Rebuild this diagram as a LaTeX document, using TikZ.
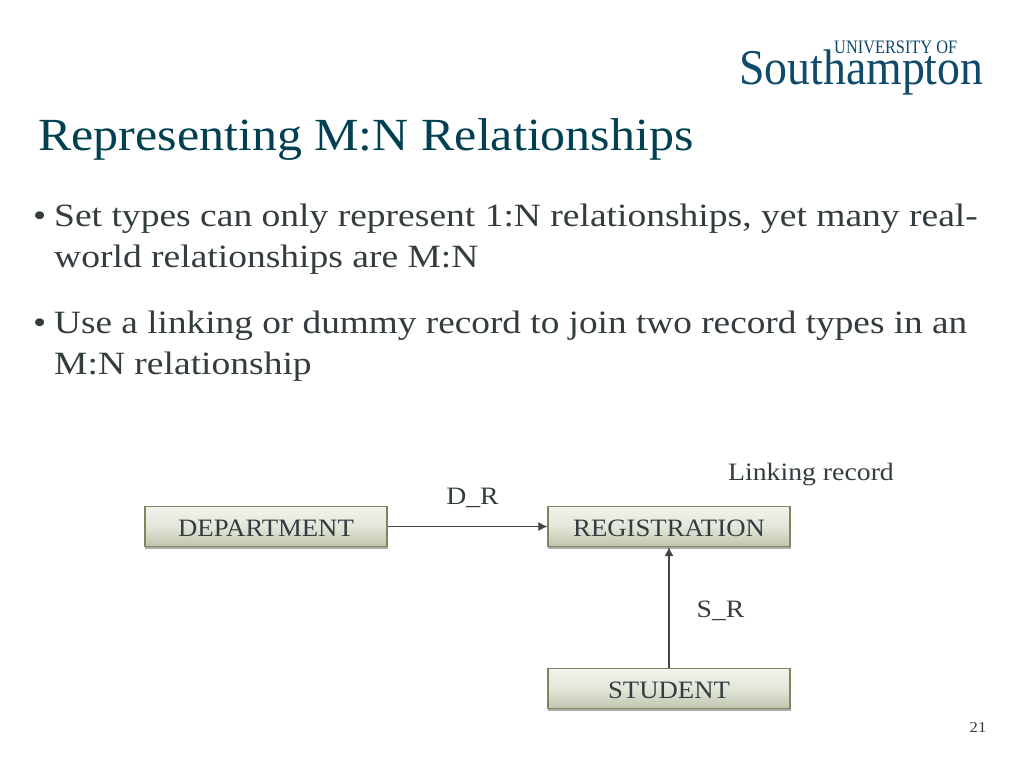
\documentclass[tikz,border=0pt]{standalone}
\usepackage{fontspec}
\setmainfont{Liberation Serif}
\newfontfamily\bodyf[FakeStretch=1.155]{Liberation Serif}
\newfontfamily\bodyg[FakeStretch=1.147]{Liberation Serif}
\newfontfamily\titlef[FakeStretch=1.087]{Liberation Serif}
\newfontfamily\lblf[FakeStretch=1.11]{Liberation Serif}
\newfontfamily\recf[FakeStretch=1.07]{Liberation Serif}
\newfontfamily\logof[FakeStretch=0.916]{Liberation Serif}
\newfontfamily\logog[FakeStretch=0.86]{Liberation Serif}
\usetikzlibrary{arrows.meta}
\definecolor{titlec}{HTML}{004050}
\definecolor{bodyc}{HTML}{333D40}
\definecolor{logoc}{HTML}{0F4A6B}
\definecolor{edgec}{HTML}{7F8560}
\definecolor{linec}{HTML}{3F4748}
\definecolor{boxtop}{HTML}{F2F4EC}
\definecolor{boxbot}{HTML}{BFC6AE}
\tikzset{
  txt/.style={inner sep=0pt,anchor=base west,text=bodyc,font=\bodyf},
  bodytxt/.style={txt,font=\bodyf\fontsize{32.5}{32.5}\selectfont},
  lbl/.style={inner sep=0pt,anchor=base,text=bodyc,font=\lblf\fontsize{25}{25}\selectfont},
  recbox/.style={draw=edgec,line width=1.2pt,minimum width=242pt,minimum height=40pt,inner sep=0pt,
    text height=20pt,text depth=0pt,
    top color=boxtop,bottom color=boxbot,middle color=boxtop!70!boxbot,text=bodyc,
    font=\recf\fontsize{25}{25}\selectfont},
  recshadow/.style={fill=black!32,draw=none,minimum width=243pt,minimum height=41pt,inner sep=0pt},
  conn/.style={draw=linec,line width=1.1pt,-{Latex[length=9pt,width=9pt]}}
}
\begin{document}
\begin{tikzpicture}[x=1pt,y=-1pt]
\useasboundingbox (0,0) rectangle (1024,768);
\fill[white] (0,0) rectangle (1024,768);
% logo
\node[inner sep=0pt,anchor=base west,text=logoc,font=\logog\fontsize{19}{19}\selectfont] (logotop) at (834,54) {UNIVERSITY OF};
\node[inner sep=0pt,anchor=base west,text=logoc,font=\logof\fontsize{50}{50}\selectfont] (logomain) at (739,84) {Southampton};
% title
\node[txt,text=titlec,font=\titlef\fontsize{46}{46}\selectfont] (title) at (38,150) {Representing M:N Relationships};
% bullets
\node[bodytxt] (b1) at (33,226) {•};
\node[bodytxt] (l1) at (54,226) {Set types can only represent 1:N relationships, yet many real-};
\node[bodytxt] (l2) at (54,267) {world relationships are M:N};
\node[bodytxt] (b2) at (33,333) {•};
\node[bodytxt,font=\bodyg\fontsize{32.5}{32.5}\selectfont] (l3) at (54,333) {Use a linking or dummy record to join two record types in an};
\node[bodytxt] (l4) at (54,374) {M:N relationship};
% boxes
\node[recshadow] (s1) at (266.5,528) {};
\node[recshadow] (s2) at (669.5,528) {};
\node[recshadow] (s3) at (669.5,690) {};
\node[recbox] (dept) at (266,526.5) {DEPARTMENT};
\node[recbox] (reg) at (669,526.5) {REGISTRATION};
\node[recbox] (stud) at (669,688.5) {STUDENT};
\draw[conn] (dept) -- (reg);
\draw[conn] (stud) -- (reg);
\node[lbl] (dr) at (472.5,504) {D\_R};
\node[lbl] (sr) at (720.5,617) {S\_R};
\node[lbl] (link) at (811,480) {Linking record};
\node[inner sep=0pt,anchor=base,text=bodyc,font=\lblf\fontsize{15}{15}\selectfont] (num) at (978,732) {21};
\end{tikzpicture}
\end{document}
